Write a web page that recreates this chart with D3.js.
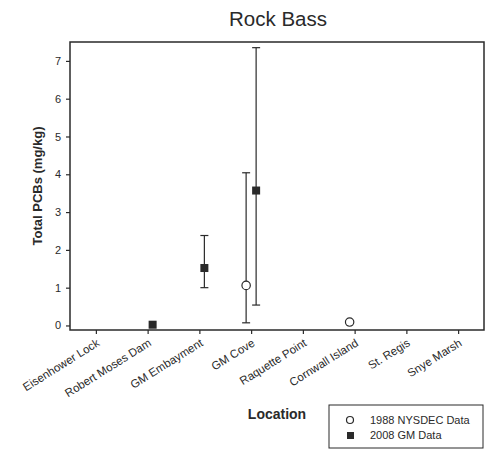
<!DOCTYPE html>
<html>
<head>
<meta charset="utf-8">
<script src="https://cdn.jsdelivr.net/npm/d3@7"></script>
<style>
  body { margin: 0; background: #fff; }
  svg { font-family: "Liberation Sans", Arial, sans-serif; }
</style>
</head>
<body>
<div id="chart"></div>
<script>
// categories on the x axis
const locations = ["Eisenhower Lock", "Robert Moses Dam", "GM Embayment", "GM Cove",
    "Raquette Point", "Cornwall Island", "St. Regis", "Snye Marsh"]

// 1988 NYSDEC data (open circles)
const nysdecLoc = ["GM Cove", "Cornwall Island"]
const nysdecMean = [1.06, 0.09]
const nysdecLow = [0.07, null]
const nysdecHigh = [4.04, null]

// 2008 GM data (filled squares)
const gmLoc = ["Robert Moses Dam", "GM Embayment", "GM Cove"]
const gmMean = [0.02, 1.52, 3.57]
const gmLow = [null, 1.0, 0.54]
const gmHigh = [null, 2.38, 7.35]

const yTicks = [0, 1, 2, 3, 4, 5, 6, 7]

const drawChart = () => {
    var width = 486,
        height = 451;
    const margin = ({ top: 42, right: 2, bottom: 121, left: 70 })
    const ink = "#2a2a2a"

    var svg = d3.select("#chart").append("svg")
        .attr("width", width)
        .attr("height", height)

    const x = d3.scalePoint()
        .domain(locations)
        .range([margin.left, width - margin.right])
        .padding(0.5)

    const y = d3.scaleLinear()
        .domain([-0.12, 7.5])
        .range([height - margin.bottom, margin.top])

    // frame
    svg.append("rect")
        .attr("x", margin.left)
        .attr("y", margin.top)
        .attr("width", width - margin.right - margin.left)
        .attr("height", height - margin.bottom - margin.top)
        .attr("fill", "none")
        .attr("stroke", ink)
        .attr("stroke-width", 1.5)

    const yAxis = g => g
        .attr("transform", `translate(${margin.left},0)`)
        .call(d3.axisLeft(y).tickValues(yTicks).tickSize(4).tickPadding(5))
        .call(g => g.selectAll(".domain").remove())
        .call(g => g.selectAll(".tick line").attr("stroke", ink).attr("stroke-width", 1.2))
        .call(g => g.selectAll(".tick text").attr("fill", ink).style("font-size", "11px"))

    const xAxis = g => g
        .attr("transform", `translate(0,${height - margin.bottom})`)
        .call(d3.axisBottom(x).tickSize(4))
        .call(g => g.selectAll(".domain").remove())
        .call(g => g.selectAll(".tick line").attr("stroke", ink).attr("stroke-width", 1.2))
        .call(g => g.selectAll(".tick text")
            .attr("fill", ink)
            .style("font-size", "11.5px")
            .attr("text-anchor", "end")
            .attr("y", 0)
            .attr("dy", 0)
            .attr("transform", "translate(4,15) rotate(-32)"))

    svg.append("g").call(yAxis)
    svg.append("g").call(xAxis)

    const nysdec = nysdecLoc.map((l, i) => ({ loc: l, mean: nysdecMean[i], lo: nysdecLow[i], hi: nysdecHigh[i] }))
    const gm = gmLoc.map((l, i) => ({ loc: l, mean: gmMean[i], lo: gmLow[i], hi: gmHigh[i] }))

    const errorBars = (data, dx) => {
        const g = svg.append("g")
            .attr("stroke", ink)
            .attr("stroke-width", 1.2)
        const d2 = data.filter(d => d.lo != null)
        g.selectAll(".stem").data(d2).join("line")
            .attr("x1", d => x(d.loc) + dx).attr("x2", d => x(d.loc) + dx)
            .attr("y1", d => y(d.lo)).attr("y2", d => y(d.hi))
        g.selectAll(".capTop").data(d2).join("line")
            .attr("x1", d => x(d.loc) + dx - 4).attr("x2", d => x(d.loc) + dx + 4)
            .attr("y1", d => y(d.hi)).attr("y2", d => y(d.hi))
        g.selectAll(".capBot").data(d2).join("line")
            .attr("x1", d => x(d.loc) + dx - 4).attr("x2", d => x(d.loc) + dx + 4)
            .attr("y1", d => y(d.lo)).attr("y2", d => y(d.lo))
    }

    errorBars(nysdec, -5)
    errorBars(gm, 5)

    svg.append("g")
        .selectAll("circle")
        .data(nysdec)
        .join("circle")
        .attr("cx", d => x(d.loc) - 5)
        .attr("cy", d => y(d.mean))
        .attr("r", 4.2)
        .attr("fill", "#fff")
        .attr("stroke", ink)
        .attr("stroke-width", 1.2)

    svg.append("g")
        .selectAll("rect")
        .data(gm)
        .join("rect")
        .attr("x", d => x(d.loc) + 5 - 4)
        .attr("y", d => y(d.mean) - 4)
        .attr("width", 8)
        .attr("height", 8)
        .attr("fill", ink)

    // title and axis labels
    svg.append("text")
        .attr("x", 278)
        .attr("y", 26)
        .attr("text-anchor", "middle")
        .attr("fill", ink)
        .style("font-size", "20.5px")
        .text("Rock Bass")

    svg.append("text")
        .attr("transform", `translate(42,${(margin.top + height - margin.bottom) / 2}) rotate(-90)`)
        .attr("text-anchor", "middle")
        .attr("fill", ink)
        .style("font-size", "13px")
        .style("font-weight", "bold")
        .text("Total PCBs (mg/kg)")

    svg.append("text")
        .attr("x", 277)
        .attr("y", 419)
        .attr("text-anchor", "middle")
        .attr("fill", ink)
        .style("font-size", "14px")
        .style("font-weight", "bold")
        .text("Location")

    // legend
    const lg = svg.append("g").attr("transform", "translate(329,405)")
    lg.append("rect")
        .attr("width", 154).attr("height", 43)
        .attr("fill", "#fff").attr("stroke", ink).attr("stroke-width", 1)
    lg.append("circle")
        .attr("cx", 21).attr("cy", 15).attr("r", 3.5)
        .attr("fill", "#fff").attr("stroke", ink).attr("stroke-width", 1.2)
    lg.append("rect")
        .attr("x", 18).attr("y", 27).attr("width", 7).attr("height", 7)
        .attr("fill", ink)
    lg.append("text").attr("x", 41).attr("y", 19)
        .attr("fill", ink).style("font-size", "11px").text("1988 NYSDEC Data")
    lg.append("text").attr("x", 41).attr("y", 34)
        .attr("fill", ink).style("font-size", "11px").text("2008 GM Data")
}

drawChart()
</script>
</body>
</html>
